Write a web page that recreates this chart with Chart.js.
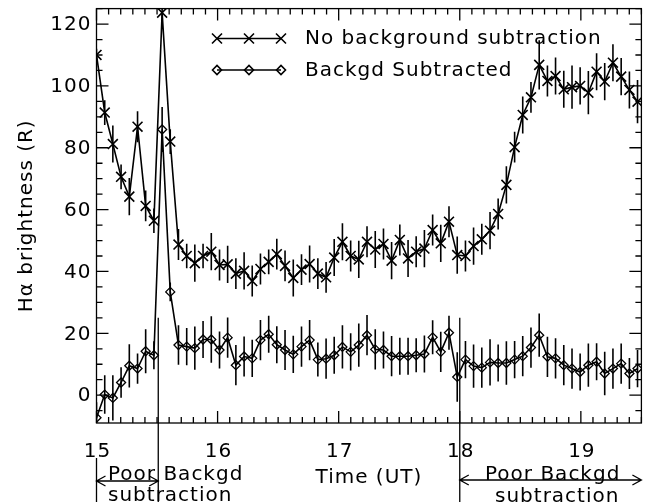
<!DOCTYPE html>
<html>
<head>
<meta charset="utf-8">
<script src="https://cdn.jsdelivr.net/npm/chart.js@4/dist/chart.umd.min.js"></script>
<style>
  html, body { margin: 0; padding: 0; background: #fff; overflow: hidden; }
  canvas { display: block; }
</style>
</head>
<body>
<canvas id="halpha" width="650" height="502"></canvas>
<script>
// observation times (UT hours)
const times = [
  15.000, 15.068, 15.135, 15.203, 15.271, 15.339, 15.406, 15.474, 15.542, 15.609,
  15.677, 15.745, 15.812, 15.880, 15.948, 16.016, 16.083, 16.151, 16.219, 16.286,
  16.354, 16.422, 16.489, 16.557, 16.625, 16.693, 16.760, 16.828, 16.896, 16.963,
  17.031, 17.099, 17.166, 17.234, 17.302, 17.370, 17.437, 17.505, 17.573, 17.640,
  17.708, 17.776, 17.843, 17.911, 17.979, 18.047, 18.114, 18.182, 18.250, 18.317,
  18.385, 18.453, 18.520, 18.588, 18.656, 18.724, 18.791, 18.859, 18.927, 18.994,
  19.062, 19.130, 19.197, 19.265, 19.333, 19.401, 19.468
];

// No background subtraction (R)
const noBgValues = [
  110, 91.4, 81.2, 70.6, 64.2, 86.8, 61.2, 56.4, 123.7, 82.0,
  48.7, 45.0, 42.7, 45.0, 46.4, 42.1, 42.3, 39.3, 40.2, 36.9,
  40.8, 43.1, 45.6, 41.8, 37.9, 40.6, 42.4, 39.3, 38.1, 44.5,
  49.6, 45.0, 43.9, 49.6, 47.1, 48.9, 43.5, 50.2, 44.2, 46.4,
  47.4, 53.4, 49.1, 56.1, 45.3, 45.0, 48.2, 50.4, 53.2, 58.6,
  68.0, 80.2, 90.6, 96.3, 106.8, 101.6, 103.2, 98.9, 99.6, 100.0,
  97.8, 104.6, 101.4, 107.5, 103.0, 98.7, 94.9
];
const noBgErrors = [
  2, 4, 6, 4, 6, 5, 5, 4, 3, 4,
  5, 4, 6, 4, 6, 5, 6, 5, 6, 5,
  5, 4, 5, 5, 6, 5, 6, 5, 5, 6,
  6, 5, 6, 5, 6, 5, 6, 5, 6, 5,
  6, 5, 6, 5, 6, 5, 6, 5, 6, 5,
  6, 5, 6, 5, 8, 5, 6, 6, 7, 6,
  7, 6, 6, 6, 6, 6, 7
];

// Backgd Subtracted (R)
const subValues = [
  -7.3, 0.2, -0.9, 4.1, 9.5, 8.6, 14.2, 12.9, 85.9, 33.4,
  16.2, 15.7, 15.2, 18.0, 18.0, 14.6, 18.6, 9.7, 12.5, 11.9,
  17.8, 19.7, 16.3, 14.6, 13.2, 15.7, 17.8, 11.5, 11.8, 12.9,
  15.6, 14.0, 16.2, 19.4, 14.8, 14.6, 12.6, 12.6, 12.6, 12.9,
  13.3, 18.7, 14.0, 20.2, 5.9, 11.5, 9.4, 8.9, 10.6, 10.4,
  10.4, 11.5, 12.6, 15.4, 19.4, 12.4, 11.9, 9.7, 8.6, 7.5,
  9.7, 10.8, 7.0, 8.6, 10.2, 7.0, 8.6
];
const subErrors = [
  5, 6.2, 7.3, 4.9, 7, 4.9, 7.1, 4.5, 7.3, 3,
  6.4, 6, 7, 6, 7.5, 6, 6.5, 6.5, 6.5, 6,
  6.5, 6, 6, 6.5, 6, 6.5, 6.5, 5.5, 6.5, 6,
  7, 6, 7, 6.5, 6.5, 6, 6.5, 6, 6, 5.5,
  6, 5.5, 6.5, 5.5, 8, 6, 7, 6.5, 7.5, 6,
  7, 6, 6.5, 6.5, 7, 6.5, 6.5, 6.5, 6.5, 6,
  7, 6, 7, 6.5, 6.5, 5, 6
];

const xTicks = [15, 16, 17, 18, 19];
const yTicks = [0, 20, 40, 60, 80, 100, 120];
const poorMarks = [15.51, 18.0];   // start / end of the poor background intervals

const FONT = '20px "DejaVu Sans", sans-serif';

function drawX(ctx, px, py, r) {
  ctx.beginPath();
  ctx.moveTo(px - r, py - r); ctx.lineTo(px + r, py + r);
  ctx.moveTo(px - r, py + r); ctx.lineTo(px + r, py - r);
  ctx.stroke();
}
function drawDiamond(ctx, px, py, r) {
  ctx.beginPath();
  ctx.moveTo(px - r, py); ctx.lineTo(px, py - r);
  ctx.lineTo(px + r, py); ctx.lineTo(px, py + r);
  ctx.closePath();
  ctx.stroke();
}

// IDL style frame: inward ticks, error bars, bracket notes, legend
const idlFrame = {
  id: 'idlFrame',
  beforeDatasetsDraw(chart) {
    const { ctx, chartArea: a, scales: { x, y } } = chart;
    ctx.save();
    ctx.beginPath();
    ctx.rect(a.left, a.top, a.right - a.left, a.bottom - a.top);
    ctx.clip();
    ctx.strokeStyle = '#000';
    ctx.lineWidth = 1.6;
    [[noBgValues, noBgErrors], [subValues, subErrors]].forEach(([vals, errs]) => {
      vals.forEach((v, i) => {
        const px = x.getPixelForValue(times[i]);
        ctx.beginPath();
        ctx.moveTo(px, y.getPixelForValue(v - errs[i]));
        ctx.lineTo(px, y.getPixelForValue(v + errs[i]));
        ctx.stroke();
      });
    });
    ctx.restore();
  },
  afterDraw(chart) {
    const { ctx, chartArea: a, scales: { x, y } } = chart;
    ctx.save();
    ctx.strokeStyle = '#000';
    ctx.fillStyle = '#000';
    ctx.lineWidth = 1.3;

    // box
    ctx.strokeRect(a.left, a.top, a.right - a.left, a.bottom - a.top);

    // x ticks (minor every 0.1 h)
    ctx.beginPath();
    for (let k = 0; k <= 45; k++) {
      const t = 15 + k * 0.1;
      const px = x.getPixelForValue(t);
      const len = k % 10 === 0 ? 12 : 6;
      ctx.moveTo(px, a.bottom); ctx.lineTo(px, a.bottom - len);
      ctx.moveTo(px, a.top); ctx.lineTo(px, a.top + len);
    }
    // y ticks (minor every 5 R)
    for (let v = -5; v <= 125; v += 5) {
      const py = y.getPixelForValue(v);
      const len = v % 20 === 0 ? 12 : 6;
      ctx.moveTo(a.left, py); ctx.lineTo(a.left + len, py);
      ctx.moveTo(a.right, py); ctx.lineTo(a.right - len, py);
    }
    ctx.stroke();

    // tick labels
    ctx.font = FONT;
    ctx.letterSpacing = '1px';
    ctx.textAlign = 'center';
    ctx.textBaseline = 'alphabetic';
    xTicks.forEach(t => ctx.fillText(String(t), x.getPixelForValue(t) + 1, 457));
    ctx.textAlign = 'right';
    ctx.textBaseline = 'middle';
    yTicks.forEach(v => ctx.fillText(String(v), a.left - 5, y.getPixelForValue(v) + 1));

    // axis titles
    ctx.textAlign = 'center';
    ctx.textBaseline = 'alphabetic';
    ctx.fillText('Time (UT)', (a.left + a.right) / 2, 483);
    ctx.save();
    ctx.translate(32, (a.top + a.bottom) / 2);
    ctx.rotate(-Math.PI / 2);
    ctx.fillText('H\u03b1 brightness (R)', 0, 0);
    ctx.restore();

    // poor background brackets
    ctx.lineWidth = 1.3;
    ctx.beginPath();
    poorMarks.forEach(m => {
      const px = x.getPixelForValue(m);
      ctx.moveTo(px, y.getPixelForValue(25)); ctx.lineTo(px, chart.height);
    });
    const x15 = x.getPixelForValue(15);
    ctx.moveTo(x15, 458); ctx.lineTo(x15, chart.height);
    ctx.stroke();

    const arrow = (x0, x1, ay) => {
      ctx.beginPath();
      ctx.moveTo(x0, ay); ctx.lineTo(x1, ay);
      ctx.moveTo(x0 + 9, ay - 5); ctx.lineTo(x0, ay); ctx.lineTo(x0 + 9, ay + 5);
      ctx.moveTo(x1 - 9, ay - 5); ctx.lineTo(x1, ay); ctx.lineTo(x1 - 9, ay + 5);
      ctx.stroke();
    };
    arrow(x15, x.getPixelForValue(poorMarks[0]), 481);
    arrow(x.getPixelForValue(poorMarks[1]), x.getPixelForValue(19.5), 480);

    ctx.textAlign = 'left';
    ctx.fillText('Poor Backgd', 108, 480);
    ctx.fillText('subtraction', 108, 501);
    ctx.fillText('Poor Backgd', 485, 480);
    ctx.fillText('subtraction', 495, 502);

    // legend
    ctx.lineWidth = 1.6;
    const lx = [217, 249, 281];
    ctx.beginPath();
    ctx.moveTo(lx[0], 38.5); ctx.lineTo(lx[2], 38.5);
    ctx.moveTo(lx[0], 70); ctx.lineTo(lx[2], 70);
    ctx.stroke();
    lx.forEach(px => {
      drawX(ctx, px, 38.5, 5);
      drawDiamond(ctx, px, 70, 4.5);
    });
    ctx.fillText('No background subtraction', 305, 44);
    ctx.fillText('Backgd Subtracted', 305, 76);
    ctx.restore();
  }
};

new Chart(document.getElementById('halpha'), {
  type: 'line',
  data: {
    datasets: [
      {
        label: 'No background subtraction',
        data: times.map((t, i) => ({ x: t, y: noBgValues[i] })),
        borderColor: '#000',
        borderWidth: 1.6,
        pointStyle: 'crossRot',
        pointRadius: 7,
        pointBorderWidth: 1.6,
        pointBorderColor: '#000',
        tension: 0
      },
      {
        label: 'Backgd Subtracted',
        data: times.map((t, i) => ({ x: t, y: subValues[i] })),
        borderColor: '#000',
        borderWidth: 1.6,
        pointStyle: 'rectRot',
        pointRadius: 4.5,
        pointBorderWidth: 1.3,
        pointBorderColor: '#000',
        pointBackgroundColor: 'rgba(0,0,0,0)',
        tension: 0
      }
    ]
  },
  options: {
    responsive: false,
    devicePixelRatio: 1,
    animation: false,
    layout: { padding: { top: 8.5, right: 1.8, left: 0, bottom: 0 } },
    plugins: { legend: { display: false }, tooltip: { enabled: false } },
    scales: {
      x: {
        type: 'linear',
        min: 15,
        max: 19.5,
        grid: { display: false },
        border: { display: false },
        ticks: { display: false },
        afterFit: s => { s.height = 79; }
      },
      y: {
        min: -9,
        max: 125,
        grid: { display: false },
        border: { display: false },
        ticks: { display: false },
        afterFit: s => { s.width = 96.5; }
      }
    }
  },
  plugins: [idlFrame]
});
</script>
</body>
</html>
